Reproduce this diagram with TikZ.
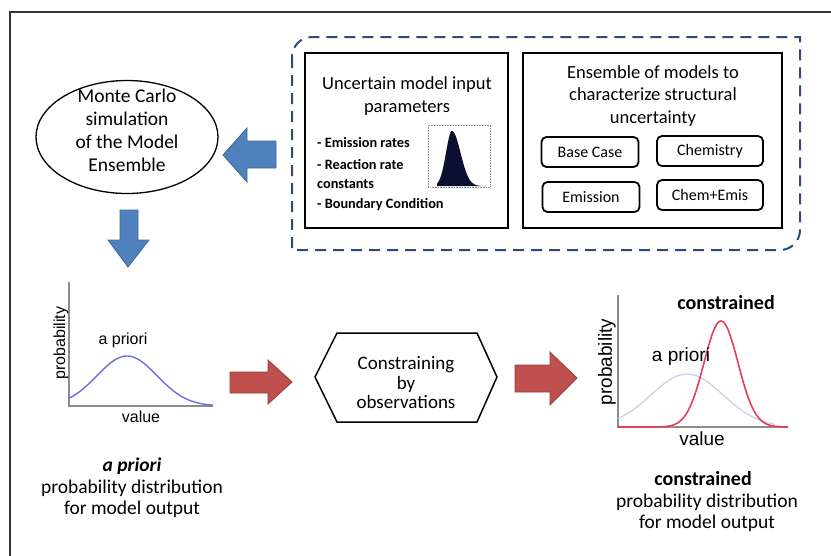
\documentclass[tikz,border=0pt]{standalone}
\usepackage{fontspec}
\setmainfont{Carlito}
\newfontfamily\arialf{Liberation Sans}
\usetikzlibrary{shapes.geometric}
\definecolor{bluearrow}{HTML}{4F81BD}
\definecolor{bluearrowline}{HTML}{41689A}
\definecolor{redarrow}{HTML}{C0504D}
\definecolor{redarrowline}{HTML}{9A3D3A}
\definecolor{dashblue}{HTML}{2E4A78}
\definecolor{axisgrey}{HTML}{8C8C8C}
\definecolor{prioriblue}{HTML}{6E6EE0}
\definecolor{priorilight}{HTML}{CACDEA}
\definecolor{constrred}{HTML}{E0405A}
\definecolor{histnavy}{HTML}{0B1030}
\tikzset{
  bigtxt/.style={font=\fontsize{18.5}{22.5}\selectfont, align=center, inner sep=0pt},
  bullettxt/.style={font=\fontsize{14.3}{16}\selectfont\bfseries, anchor=west, inner sep=0pt},
  smallbox/.style={draw, line width=1.8pt, rounded corners=5pt, minimum width=97pt, minimum height=30pt, font=\fontsize{16}{18}\selectfont, inner sep=0pt},
  bigbox/.style={draw, line width=2pt},
  bluearr/.style={fill=bluearrow, draw=bluearrowline, line width=0.8pt},
  redarr/.style={fill=redarrow, draw=redarrowline, line width=0.8pt},
  axisline/.style={draw=axisgrey, line width=1.6pt},
  plottxt/.style={font=\arialf\fontsize{16}{18}\selectfont, inner sep=0pt},
  plottxtb/.style={font=\arialf\fontsize{19}{21}\selectfont, inner sep=0pt},
}
\begin{document}
\begin{tikzpicture}[x=1pt, y=-1pt]
\useasboundingbox (0,0) rectangle (831,555);
% outer frame (only top and left edges visible)
\begin{scope}
\clip (0,0) rectangle (831,555);
\draw[line width=2pt, draw=black!80] (10,12) rectangle (845,570);
\end{scope}

% dashed group
\draw[dashblue, line width=2pt, dash pattern=on 11pt off 7pt]
  (292,57) -- (292,250) -- (780,250)
  arc[start angle=90, end angle=0, radius=20] -- (800,37) -- (312,37)
  arc[start angle=270, end angle=180, radius=20] -- cycle;

% left box
\draw[bigbox] (305,53) rectangle (508,228);
\node[bigtxt] (unc) at (407,96) {Uncertain model input\\parameters};
\node[bullettxt] (b1) at (317,143) {- Emission rates};
\node[bullettxt] (b2) at (317,165) {- Reaction rate};
\node[bullettxt] (b3) at (317,184) {constants};
\node[bullettxt] (b4) at (317,205) {- Boundary Condition};
% histogram
\draw[black!45, line width=0.6pt, densely dotted] (428,125) rectangle (490,187);
\fill[histnavy] (437,186)
  -- plot[domain=437:452, samples=30] (\x, {186-55*exp(-((\x-452)^2)/(2*6^2))})
  -- plot[domain=452:486, samples=40] (\x, {186-55*exp(-((\x-452)^2)/(2*8.5^2))})
  -- (486,186) -- cycle;

% right box
\draw[bigbox] (523,53) rectangle (782,228);
\node[bigtxt] (ens) at (653,96) {Ensemble of models to\\characterize structural\\uncertainty};
\node[smallbox] (base) at (590,152) {Base Case};
\node[smallbox, minimum width=106pt] (chem) at (710,151) {Chemistry};
\node[smallbox] (emis) at (591,197) {Emission};
\node[smallbox, minimum width=106pt] (chemis) at (710,195) {Chem+Emis};

% ellipse
\node[draw, ellipse, line width=1.3pt, minimum width=182pt, minimum height=113pt] (mc) at (127,137) {};
\node[bigtxt, font=\fontsize{19.5}{23}\selectfont] (mctxt) at (127,130) {Monte Carlo\\simulation\\of the Model\\Ensemble};

% blue arrows
\draw[bluearr] (223,155) -- (247,128) -- (247,141) -- (276,141) -- (276,168) -- (247,168) -- (247,182) -- cycle;
\draw[bluearr] (120,210) -- (138,210) -- (138,240) -- (149,240) -- (128,267) -- (108,240) -- (120,240) -- cycle;

% left plot
\draw[axisline] (69,282) -- (69,406) -- (213,406);
\draw[prioriblue, line width=1.4pt] plot[domain=69:213, samples=80, smooth] (\x, {406-50*exp(-((\x-127)^2)/(2*30^2))});
\node[plottxt, rotate=90] (prob1) at (61,343) {probability};
\node[plottxt] (ap1) at (123,340) {a priori};
\node[plottxt] (val1) at (141,417) {value};
\node[bigtxt, font=\fontsize{19.5}{21.5}\selectfont] (lefttxt) at (132,488) {\textbf{\textit{a priori}}\\probability distribution\\for model output};

% red arrows
\draw[redarr] (230,372) -- (268,372) -- (268,360) -- (292,382) -- (268,404) -- (268,393) -- (230,393) -- cycle;
\draw[redarr] (515,365) -- (550,365) -- (550,352) -- (577,378) -- (550,405) -- (550,392) -- (515,392) -- cycle;

% hexagon
\draw[line width=1.5pt] (315,377) -- (337,333) -- (477,333) -- (497,377) -- (477,422) -- (337,422) -- cycle;
\node[bigtxt, font=\fontsize{19}{19.5}\selectfont] (hex) at (406,383) {Constraining\\by\\observations};

% right plot
\draw[axisline] (618,295) -- (618,427) -- (788,427);
\draw[priorilight, line width=1.2pt] plot[domain=618:775, samples=80, smooth] (\x, {427-53*exp(-((\x-687)^2)/(2*36^2))});
\draw[constrred, line width=1.6pt] plot[domain=618:788, samples=100, smooth] (\x, {427-106*exp(-((\x-721)^2)/(2*17^2))});
\node[plottxtb, rotate=90] (prob2) at (607,362) {probability};
\node[plottxtb] (ap2) at (681,357) {a priori};
\node[plottxtb] (val2) at (702,439) {value};
\node[font=\fontsize{20}{22}\selectfont\bfseries, inner sep=0pt] (con1) at (726,303) {constrained};
\node[font=\fontsize{20}{22}\selectfont\bfseries, inner sep=0pt] (con2) at (703,479) {constrained};
\node[bigtxt, font=\fontsize{19.5}{21}\selectfont] (righttxt) at (707,513) {probability distribution\\for model output};
\end{tikzpicture}
\end{document}
